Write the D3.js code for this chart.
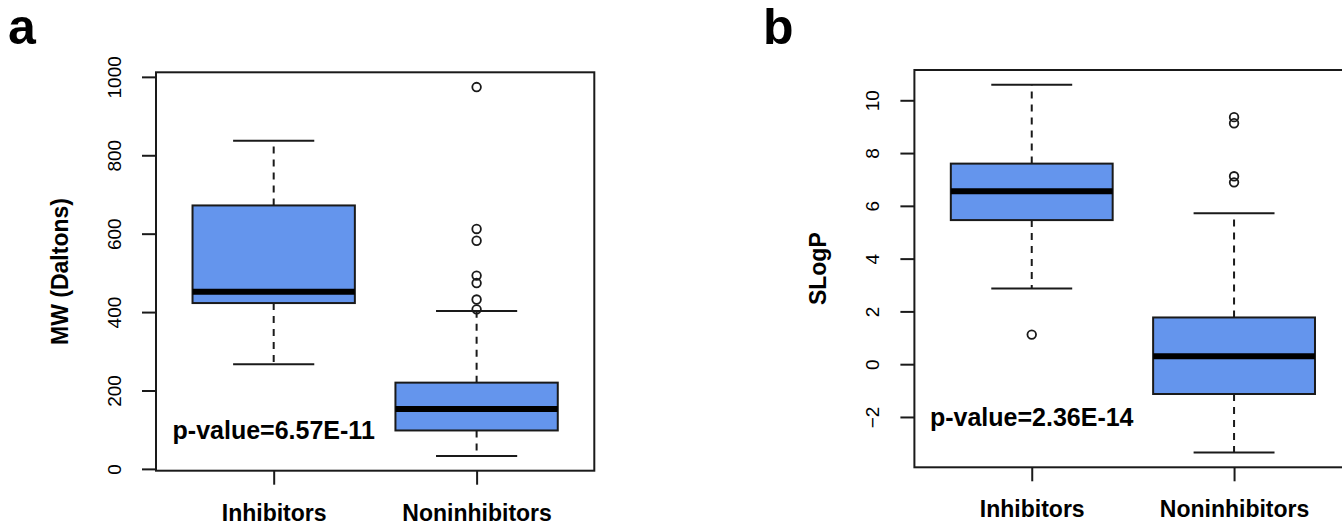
<!DOCTYPE html>
<html>
<head>
<meta charset="utf-8">
<script src="https://cdn.jsdelivr.net/npm/d3@7"></script>
<style>
  body { margin: 0; background: #fff; overflow: hidden; }
  svg { display: block; font-family: "Liberation Sans", Arial, Helvetica, sans-serif; }
</style>
</head>
<body>
<svg id="chart" width="1342" height="525"></svg>
<script>
// groups shared by both panels
const groups = ["Inhibitors", "Noninhibitors"];

// panel a: molecular weight
const mwLowWhisker = [267, 33];
const mwQ1 = [423, 98];
const mwMedian = [452, 153];
const mwQ3 = [672, 220];
const mwHighWhisker = [837, 403];
const mwOutliers = [[], [974, 612, 582, 493, 474, 432, 407]];
const mwTicks = [0, 200, 400, 600, 800, 1000];
const mwPValue = "p-value=6.57E-11";

// panel b: SLogP
const logpLowWhisker = [2.87, -3.35];
const logpQ1 = [5.46, -1.13];
const logpMedian = [6.55, 0.30];
const logpQ3 = [7.60, 1.77];
const logpHighWhisker = [10.59, 5.72];
const logpOutliers = [[1.12], [9.36, 9.13, 7.12, 6.89]];
const logpTicks = [-2, 0, 2, 4, 6, 8, 10];
const logpPValue = "p-value=2.36E-14";

const svg = d3.select("#chart");
const ink = "#1a1a1a";
const fill = "#6495ED";

function drawPanel(opt) {
  const stats = groups.map((g, i) => ({
    group: g, pos: i + 1,
    lo: opt.lo[i], q1: opt.q1[i], med: opt.med[i], q3: opt.q3[i], hi: opt.hi[i],
    out: opt.out[i]
  }));

  // R style: data range padded by 4% on each side
  const all = stats.flatMap(d => [d.lo, d.hi, ...d.out]);
  const [mn, mx] = d3.extent(all);
  const pad = (mx - mn) * 0.04;
  const y = d3.scaleLinear().domain([mn - pad, mx + pad]).range([opt.bottom, opt.top]);
  const x = d3.scaleLinear().domain([0.42, 2.58]).range([opt.left, opt.right]);

  const g = svg.append("g");

  // whiskers
  const box = g.selectAll("g.box").data(stats).join("g").attr("class", "box");
  box.selectAll("line.whisker")
    .data(d => [[d.pos, d.q3, d.hi], [d.pos, d.q1, d.lo]])
    .join("line")
    .attr("x1", d => x(d[0])).attr("x2", d => x(d[0]))
    .attr("y1", d => y(d[1])).attr("y2", d => y(d[2]))
    .attr("stroke", ink).attr("stroke-width", 2)
    .attr("stroke-dasharray", "7,6");
  box.selectAll("line.cap")
    .data(d => [[d.pos, d.hi], [d.pos, d.lo]])
    .join("line")
    .attr("x1", d => x(d[0] - 0.2)).attr("x2", d => x(d[0] + 0.2))
    .attr("y1", d => y(d[1])).attr("y2", d => y(d[1]))
    .attr("stroke", ink).attr("stroke-width", 2);

  // boxes + medians
  box.append("rect")
    .attr("x", d => x(d.pos - 0.4))
    .attr("width", d => x(d.pos + 0.4) - x(d.pos - 0.4))
    .attr("y", d => y(d.q3))
    .attr("height", d => y(d.q1) - y(d.q3))
    .attr("fill", fill).attr("stroke", ink).attr("stroke-width", 2);
  box.append("line")
    .attr("x1", d => x(d.pos - 0.4)).attr("x2", d => x(d.pos + 0.4))
    .attr("y1", d => y(d.med)).attr("y2", d => y(d.med))
    .attr("stroke", "#000").attr("stroke-width", 6);

  // outliers
  box.selectAll("circle")
    .data(d => d.out.map(v => [d.pos, v]))
    .join("circle")
    .attr("cx", d => x(d[0])).attr("cy", d => y(d[1]))
    .attr("r", 4.3)
    .attr("fill", "none").attr("stroke", ink).attr("stroke-width", 1.8);

  // frame
  g.append("rect")
    .attr("x", opt.left).attr("y", opt.top)
    .attr("width", opt.right - opt.left).attr("height", opt.bottom - opt.top)
    .attr("fill", "none").attr("stroke", ink).attr("stroke-width", 2);

  // y axis
  const yAxis = d3.axisLeft(y).tickValues(opt.ticks).tickSize(14)
    .tickFormat(d => d < 0 ? "\u2212" + Math.abs(d) : d);
  const ga = g.append("g").attr("transform", `translate(${opt.left},0)`).call(yAxis);
  ga.attr("font-family", null).attr("font-size", null);
  ga.select(".domain").remove();
  ga.selectAll(".tick line").attr("stroke", ink).attr("stroke-width", 2);
  ga.selectAll(".tick text")
    .attr("x", 0).attr("dy", null)
    .attr("text-anchor", "middle")
    .attr("transform", "translate(-35,0) rotate(-90)")
    .attr("fill", "#000")
    .style("font-size", "19px");

  // x axis
  const xAxis = d3.axisBottom(x).tickValues([1, 2]).tickSize(14)
    .tickFormat(i => groups[i - 1]);
  const gx = g.append("g").attr("transform", `translate(0,${opt.bottom})`).call(xAxis);
  gx.attr("font-family", null).attr("font-size", null);
  gx.select(".domain").remove();
  gx.selectAll(".tick line").attr("stroke", ink).attr("stroke-width", 2);
  gx.selectAll(".tick text")
    .attr("y", 50).attr("dy", null)
    .attr("fill", "#000")
    .style("font-size", "23px").style("font-weight", "bold");

  // y title
  g.append("text")
    .attr("transform", `translate(${opt.left - 88},${(opt.top + opt.bottom) / 2}) rotate(-90)`)
    .attr("text-anchor", "middle")
    .style("font-size", "23px").style("font-weight", "bold")
    .text(opt.title);

  // p-value note, placed in data units like R's text()
  g.append("text")
    .attr("x", x(1)).attr("y", y(opt.noteY))
    .attr("dy", "0.36em")
    .attr("text-anchor", "middle")
    .style("font-size", "25px").style("font-weight", "bold")
    .text(opt.note);

  // panel letter
  svg.append("text")
    .attr("x", opt.letterX).attr("y", 44)
    .style("font-size", "50px").style("font-weight", "bold")
    .text(opt.letter);
}

drawPanel({
  left: 156, right: 594.3, top: 72.3, bottom: 470.7,
  lo: mwLowWhisker, q1: mwQ1, med: mwMedian, q3: mwQ3, hi: mwHighWhisker, out: mwOutliers,
  ticks: mwTicks, title: "MW (Daltons)", note: mwPValue, noteY: 100,
  letter: "a", letterX: 8
});

drawPanel({
  left: 914.4, right: 1351.4, top: 70, bottom: 467.3,
  lo: logpLowWhisker, q1: logpQ1, med: logpMedian, q3: logpQ3, hi: logpHighWhisker, out: logpOutliers,
  ticks: logpTicks, title: "SLogP", note: logpPValue, noteY: -2,
  letter: "b", letterX: 763
});
</script>
</body>
</html>
